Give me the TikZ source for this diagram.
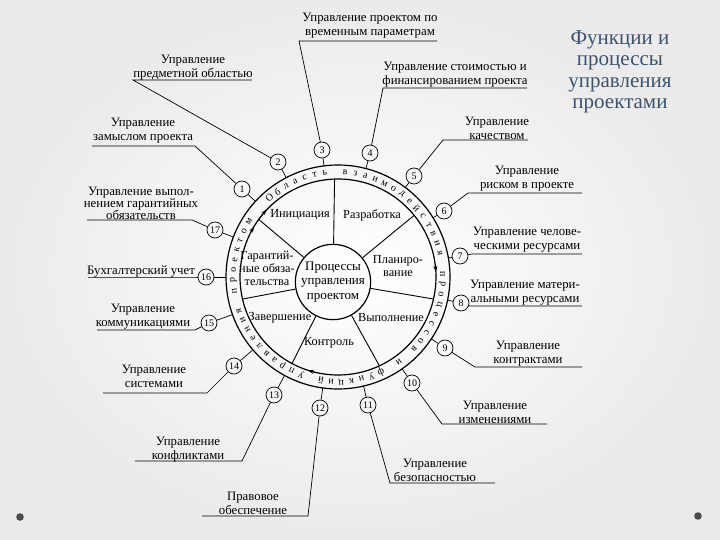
\documentclass[tikz,border=0pt]{standalone}
\usepackage{fontspec}
\setmainfont{Liberation Serif}
\newfontfamily\serif{Liberation Serif}
\usetikzlibrary{calc,arrows.meta}
\definecolor{ttl}{HTML}{3A5470}
\begin{document}
\begin{tikzpicture}[x=1pt,y=-1pt,
  lbl/.style={align=center,font=\serif\fontsize{12.8}{14}\selectfont,inner sep=0pt},
  num/.style={circle,draw,line width=0.7pt,minimum size=16pt,inner sep=0pt,font=\serif\fontsize{10}{10}\selectfont},
  lead/.style={line width=0.7pt},
  ring/.style={line width=1.2pt},
  spoke/.style={line width=0.9pt},
  sect/.style={font=\serif\fontsize{12.3}{13}\selectfont,align=center,inner sep=0pt},
  rl/.style={font=\serif\fontsize{10}{10}\selectfont,inner sep=0pt},
  arr/.style={-{Stealth[length=6pt,width=4pt]},line width=0.8pt}
]
\shade[inner color=white,outer color=gray!16] (0,0) rectangle (720,540);
\useasboundingbox (0,0) rectangle (720,540);

% title
\node[font=\serif\fontsize{21}{21.5}\selectfont,text=ttl,align=center] (title) at (620,72) {Функции и\\процессы\\управления\\проектами};

% bullets
\fill[gray!60!black] (20,517) circle[radius=3.8pt];
\fill[gray!60!black] (698,516) circle[radius=3.8pt];

% wheel
\coordinate (C) at (338,277);
\draw[ring] (C) circle[radius=112pt];
\draw[ring] (C) circle[radius=98pt];
\node[circle,draw,line width=1.2pt,minimum size=71pt,inner sep=0pt,align=center,font=\serif\fontsize{13}{14.5}\selectfont] (hub) at (333,282) {Процессы\\управления\\проектом};

\foreach \a in {92,39,-13,-65,-118,193} \draw[spoke] (hub) -- ($(C)+(\a:98pt)$);
\coordinate (sk) at ($(C)+(144:98pt)$);
\draw[spoke] (hub) -- (sk);
\draw[arr] (sk) -- ++(8,-10);

\foreach \a in {149,3,-108}{
  \pgfmathsetmacro\b{\a+4}
  \draw[arr] ($(C)+(\b:98pt)$) -- ($(C)+(\a:98pt)$);
}

% sector labels
\node[sect] (s1) at (300,215) {Инициация};
\node[sect] (s2) at (372,215) {Разработка};
\node[sect] (s3) at (398,266) {Планиро-\\вание};
\node[sect] (s4) at (391,318) {Выполнение};
\node[sect] (s5) at (329,343) {Контроль};
\node[sect] (s6) at (280,318) {Завершение};
\node[sect] (s7) at (267,268) {Гарантий-\\ные обяза-\\тельства};

% ring text
\foreach \ch [count=\i] in {О,б,л,а,с,т,ь,{},в,з,а,и,м,о,д,е,й,с,т,в,и,я,{},п,р,о,ц,е,с,с,о,в,{},и,{},ф,у,н,к,ц,и,й,{},у,п,р,а,в,л,е,н,и,я,{},п,р,о,е,к,т,о,м}{
  \pgfmathsetmacro\ang{131-(\i-1)*5.62}
  \node[rl,rotate=\ang-90] (r\i) at ($(C)+(\ang:104.5pt)$) {\ch};
}

% numbered circles
\node[num] (n1) at (242,189) {1};
\node[num] (n2) at (278,162) {2};
\node[num] (n3) at (322,150) {3};
\node[num] (n4) at (370,153) {4};
\node[num] (n5) at (414,176) {5};
\node[num] (n6) at (444,211) {6};
\node[num] (n7) at (460,256) {7};
\node[num] (n8) at (461,303) {8};
\node[num] (n9) at (445,348) {9};
\node[num] (n10) at (412,383) {10};
\node[num] (n11) at (368,405) {11};
\node[num] (n12) at (320,408) {12};
\node[num] (n13) at (274,395) {13};
\node[num] (n14) at (234,366) {14};
\node[num] (n15) at (209,323) {15};
\node[num] (n16) at (206,277) {16};
\node[num] (n17) at (215,230) {17};
\foreach \k in {1,...,17} \draw[lead] (n\k) -- ($(C)!112pt!(n\k)$);

% labels
\node[lbl] (l3) at (370,26) {Управление проектом по\\временным параметрам};
\coordinate (a3) at (299,41); \coordinate (b3) at (437,41);
\node[lbl] (l2) at (193,68) {Управление\\предметной областью};
\coordinate (a2) at (133,80); \coordinate (b2) at (252,80);
\node[lbl] (l4) at (455,75) {Управление стоимостью и\\финансированием проекта};
\coordinate (a4) at (383,88); \coordinate (b4) at (527,88);
\node[lbl] (l5) at (497,128) {Управление\\качеством};
\coordinate (a5) at (443,140); \coordinate (b5) at (528,140);
\node[lbl] (l6) at (527,179) {Управление\\риском в проекте};
\coordinate (a6) at (468,193); \coordinate (b6) at (582,193);
\node[lbl] (l7) at (527,240) {Управление челове-\\ческими ресурсами};
\coordinate (a7) at (472,254); \coordinate (b7) at (582,254);
\node[lbl] (l8) at (525,293) {Управление матери-\\альными ресурсами};
\coordinate (a8) at (470,306); \coordinate (b8) at (582,306);
\node[lbl] (l9) at (528,354) {Управление\\контрактами};
\coordinate (a9) at (475,367); \coordinate (b9) at (582,367);
\node[lbl] (l10) at (495,412) {Управление\\изменениями};
\coordinate (a10) at (442,424); \coordinate (b10) at (547,424);
\node[lbl] (l11) at (435,470) {Управление\\безопасностью};
\coordinate (a11) at (390,483); \coordinate (b11) at (495,483);
\node[lbl] (l12) at (253,503) {Правовое\\обеспечение};
\coordinate (a12) at (308,516); \coordinate (b12) at (202,516);
\node[lbl] (l13) at (188,450) {Управление\\конфликтами};
\coordinate (a13) at (242,461); \coordinate (b13) at (135,461);
\node[lbl] (l14) at (154,376) {Управление\\системами};
\coordinate (a14) at (207,393); \coordinate (b14) at (103,393);
\node[lbl] (l15) at (143,317) {Управление\\коммуникациями};
\coordinate (a15) at (195,330); \coordinate (b15) at (97,330);
\node[lbl] (l16) at (141,271) {Бухгалтерский учет};
\coordinate (a16) at (195,277); \coordinate (b16) at (88,277);
\node[lbl,font=\serif\fontsize{12.8}{12}\selectfont] (l17) at (141,203) {Управление выпол-\\нением гарантийных\\обязательств};
\coordinate (a17) at (192,220); \coordinate (b17) at (87,220);
\node[lbl] (l1) at (143,131) {Управление\\замыслом проекта};
\coordinate (a1) at (195,146); \coordinate (b1) at (92,146);

\foreach \k in {1,...,17}{
  \draw[lead] (b\k) -- (a\k) -- (n\k);
}
\end{tikzpicture}
\end{document}
